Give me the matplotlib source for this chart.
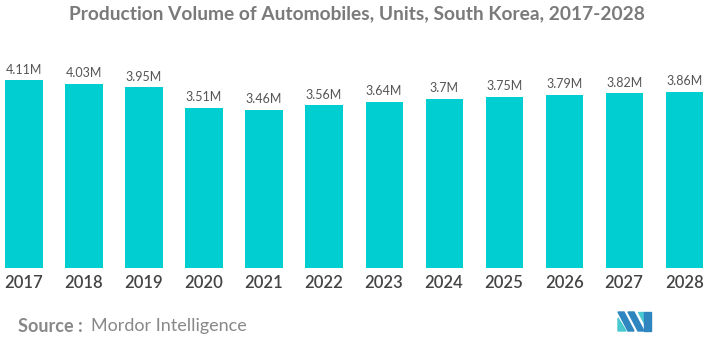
import matplotlib.pyplot as plt
from matplotlib.patches import Polygon

# 汽车产量数据（百万辆）
years = ["2017", "2018", "2019", "2020", "2021", "2022",
         "2023", "2024", "2025", "2026", "2027", "2028"]
volumes = [4.11, 4.03, 3.95, 3.51, 3.46, 3.56,
           3.64, 3.70, 3.75, 3.79, 3.82, 3.86]
labels = ["4.11M", "4.03M", "3.95M", "3.51M", "3.46M", "3.56M",
          "3.64M", "3.7M", "3.75M", "3.79M", "3.82M", "3.86M"]

W, H = 713, 344
fig = plt.figure(figsize=(W / 100, H / 100), dpi=100)
ax = fig.add_axes([0, 76 / H, 1, 208 / H])

x = list(range(len(years)))
ax.bar(x, volumes, width=0.62, color="#00CED1")
for xi, v, lab in zip(x, volumes, labels):
    ax.text(xi, v + 0.1, lab, ha="center", va="bottom",
            fontsize=9, color="#555555", family="Lato")

ax.set_xlim(-0.4, 11.48)
ax.set_ylim(0, 4.55)
ax.set_xticks(x)
ax.set_xticklabels(years, fontsize=12, color="#444444", family="Lato",
                   fontweight="semibold")
ax.tick_params(axis="x", length=0, pad=5)
ax.set_yticks([])
for s in ax.spines.values():
    s.set_visible(False)

fig.text(0.5, 1 - 14 / H, "Production Volume of Automobiles, Units, South Korea, 2017-2028",
         ha="center", va="center", fontsize=13.8, fontweight="bold",
         color="#7a7a7a", family="Lato")
fig.text(18 / W, 1 - 326 / H, "Source :", ha="left", va="center",
         fontsize=13, fontweight="bold", color="#888888", family="Lato")
fig.text(91 / W, 1 - 326 / H, "Mordor Intelligence", ha="left", va="center",
         fontsize=13, color="#888888", family="Lato")

# 右下角标志
def px(pts):
    return [(a / W, 1 - b / H) for a, b in pts]

logo = [
    ([(618, 312), (624, 312), (634, 331), (628, 331)], "#2E86C1"),
    ([(618, 318), (626, 331), (618, 331)], "#48C9D0"),
    ([(628, 312), (634, 312), (644, 331), (638, 331)], "#2E86C1"),
    ([(638, 312), (644, 312), (644, 323)], "#48C9D0"),
    ([(644, 312), (651, 312), (651, 331), (644, 331)], "#2E86C1"),
]
for pts, c in logo:
    fig.patches.append(Polygon(px(pts), closed=True, color=c,
                               transform=fig.transFigure, figure=fig))

fig.savefig("out.png", dpi=100)
